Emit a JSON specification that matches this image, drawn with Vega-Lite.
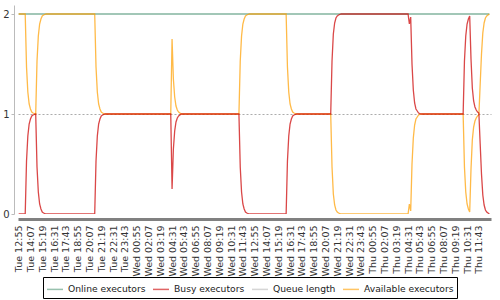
{
  "$schema": "https://vega.github.io/schema/vega-lite/v6.json",
  "width": 473,
  "height": 209,
  "autosize": "none",
  "padding": {"left": 18, "top": 5, "right": 9, "bottom": 86},
  "config": {"font": "DejaVu Sans", "view": {"stroke": null}},
  "data": {"values": [
    {"t": "2024-01-02T12:55", "s": "Online executors", "v": 2},
    {"t": "2024-01-04T12:47", "s": "Online executors", "v": 2},

    {"t": "2024-01-02T12:55", "s": "Available executors", "v": 2},
    {"t": "2024-01-02T13:35", "s": "Available executors", "v": 2},
    {"t": "2024-01-02T13:43", "s": "Available executors", "v": 1.47},
    {"t": "2024-01-02T13:51", "s": "Available executors", "v": 1.22},
    {"t": "2024-01-02T13:59", "s": "Available executors", "v": 1.1},
    {"t": "2024-01-02T14:07", "s": "Available executors", "v": 1.05},
    {"t": "2024-01-02T14:15", "s": "Available executors", "v": 1.02},
    {"t": "2024-01-02T14:23", "s": "Available executors", "v": 1.01},
    {"t": "2024-01-02T14:39", "s": "Available executors", "v": 1},
    {"t": "2024-01-02T14:47", "s": "Available executors", "v": 1.53},
    {"t": "2024-01-02T14:55", "s": "Available executors", "v": 1.78},
    {"t": "2024-01-02T15:03", "s": "Available executors", "v": 1.9},
    {"t": "2024-01-02T15:11", "s": "Available executors", "v": 1.95},
    {"t": "2024-01-02T15:19", "s": "Available executors", "v": 1.98},
    {"t": "2024-01-02T15:27", "s": "Available executors", "v": 1.99},
    {"t": "2024-01-02T15:43", "s": "Available executors", "v": 2},
    {"t": "2024-01-02T20:39", "s": "Available executors", "v": 2},
    {"t": "2024-01-02T20:47", "s": "Available executors", "v": 1.47},
    {"t": "2024-01-02T20:55", "s": "Available executors", "v": 1.22},
    {"t": "2024-01-02T21:03", "s": "Available executors", "v": 1.1},
    {"t": "2024-01-02T21:11", "s": "Available executors", "v": 1.05},
    {"t": "2024-01-02T21:19", "s": "Available executors", "v": 1.02},
    {"t": "2024-01-02T21:27", "s": "Available executors", "v": 1.01},
    {"t": "2024-01-02T21:43", "s": "Available executors", "v": 1},
    {"t": "2024-01-03T04:23", "s": "Available executors", "v": 1},
    {"t": "2024-01-03T04:31", "s": "Available executors", "v": 1.75},
    {"t": "2024-01-03T04:39", "s": "Available executors", "v": 1.35},
    {"t": "2024-01-03T04:47", "s": "Available executors", "v": 1.17},
    {"t": "2024-01-03T04:55", "s": "Available executors", "v": 1.08},
    {"t": "2024-01-03T05:03", "s": "Available executors", "v": 1.04},
    {"t": "2024-01-03T05:11", "s": "Available executors", "v": 1.02},
    {"t": "2024-01-03T05:27", "s": "Available executors", "v": 1},
    {"t": "2024-01-03T11:19", "s": "Available executors", "v": 1},
    {"t": "2024-01-03T11:27", "s": "Available executors", "v": 1.53},
    {"t": "2024-01-03T11:35", "s": "Available executors", "v": 1.78},
    {"t": "2024-01-03T11:43", "s": "Available executors", "v": 1.9},
    {"t": "2024-01-03T11:51", "s": "Available executors", "v": 1.95},
    {"t": "2024-01-03T11:59", "s": "Available executors", "v": 1.98},
    {"t": "2024-01-03T12:07", "s": "Available executors", "v": 1.99},
    {"t": "2024-01-03T12:23", "s": "Available executors", "v": 2},
    {"t": "2024-01-03T16:07", "s": "Available executors", "v": 2},
    {"t": "2024-01-03T16:15", "s": "Available executors", "v": 1.47},
    {"t": "2024-01-03T16:23", "s": "Available executors", "v": 1.22},
    {"t": "2024-01-03T16:31", "s": "Available executors", "v": 1.1},
    {"t": "2024-01-03T16:39", "s": "Available executors", "v": 1.05},
    {"t": "2024-01-03T16:47", "s": "Available executors", "v": 1.02},
    {"t": "2024-01-03T16:55", "s": "Available executors", "v": 1.01},
    {"t": "2024-01-03T17:11", "s": "Available executors", "v": 1},
    {"t": "2024-01-03T20:39", "s": "Available executors", "v": 1},
    {"t": "2024-01-03T20:47", "s": "Available executors", "v": 0.47},
    {"t": "2024-01-03T20:55", "s": "Available executors", "v": 0.2},
    {"t": "2024-01-03T21:03", "s": "Available executors", "v": 0.09},
    {"t": "2024-01-03T21:11", "s": "Available executors", "v": 0.04},
    {"t": "2024-01-03T21:19", "s": "Available executors", "v": 0.02},
    {"t": "2024-01-03T21:27", "s": "Available executors", "v": 0.01},
    {"t": "2024-01-03T21:43", "s": "Available executors", "v": 0},
    {"t": "2024-01-04T04:31", "s": "Available executors", "v": 0},
    {"t": "2024-01-04T04:39", "s": "Available executors", "v": 0.1},
    {"t": "2024-01-04T04:47", "s": "Available executors", "v": 0.03},
    {"t": "2024-01-04T04:55", "s": "Available executors", "v": 0.5},
    {"t": "2024-01-04T05:03", "s": "Available executors", "v": 0.76},
    {"t": "2024-01-04T05:11", "s": "Available executors", "v": 0.89},
    {"t": "2024-01-04T05:19", "s": "Available executors", "v": 0.95},
    {"t": "2024-01-04T05:27", "s": "Available executors", "v": 0.97},
    {"t": "2024-01-04T05:35", "s": "Available executors", "v": 0.99},
    {"t": "2024-01-04T05:51", "s": "Available executors", "v": 1},
    {"t": "2024-01-04T10:07", "s": "Available executors", "v": 1},
    {"t": "2024-01-04T10:15", "s": "Available executors", "v": 0.47},
    {"t": "2024-01-04T10:23", "s": "Available executors", "v": 0.22},
    {"t": "2024-01-04T10:31", "s": "Available executors", "v": 0.1},
    {"t": "2024-01-04T10:39", "s": "Available executors", "v": 0.05},
    {"t": "2024-01-04T10:47", "s": "Available executors", "v": 0.02},
    {"t": "2024-01-04T10:55", "s": "Available executors", "v": 0.45},
    {"t": "2024-01-04T11:03", "s": "Available executors", "v": 0.74},
    {"t": "2024-01-04T11:11", "s": "Available executors", "v": 0.87},
    {"t": "2024-01-04T11:19", "s": "Available executors", "v": 0.93},
    {"t": "2024-01-04T11:27", "s": "Available executors", "v": 0.96},
    {"t": "2024-01-04T11:35", "s": "Available executors", "v": 0.98},
    {"t": "2024-01-04T11:43", "s": "Available executors", "v": 0.99},
    {"t": "2024-01-04T11:51", "s": "Available executors", "v": 1.3},
    {"t": "2024-01-04T11:59", "s": "Available executors", "v": 1.6},
    {"t": "2024-01-04T12:07", "s": "Available executors", "v": 1.81},
    {"t": "2024-01-04T12:15", "s": "Available executors", "v": 1.91},
    {"t": "2024-01-04T12:23", "s": "Available executors", "v": 1.96},
    {"t": "2024-01-04T12:31", "s": "Available executors", "v": 1.98},
    {"t": "2024-01-04T12:39", "s": "Available executors", "v": 1.99},
    {"t": "2024-01-04T12:47", "s": "Available executors", "v": 2},

    {"t": "2024-01-02T12:55", "s": "Busy executors", "v": 0},
    {"t": "2024-01-02T13:35", "s": "Busy executors", "v": 0},
    {"t": "2024-01-02T13:43", "s": "Busy executors", "v": 0.53},
    {"t": "2024-01-02T13:51", "s": "Busy executors", "v": 0.78},
    {"t": "2024-01-02T13:59", "s": "Busy executors", "v": 0.9},
    {"t": "2024-01-02T14:07", "s": "Busy executors", "v": 0.95},
    {"t": "2024-01-02T14:15", "s": "Busy executors", "v": 0.98},
    {"t": "2024-01-02T14:23", "s": "Busy executors", "v": 0.99},
    {"t": "2024-01-02T14:39", "s": "Busy executors", "v": 1},
    {"t": "2024-01-02T14:47", "s": "Busy executors", "v": 0.47},
    {"t": "2024-01-02T14:55", "s": "Busy executors", "v": 0.22},
    {"t": "2024-01-02T15:03", "s": "Busy executors", "v": 0.1},
    {"t": "2024-01-02T15:11", "s": "Busy executors", "v": 0.05},
    {"t": "2024-01-02T15:19", "s": "Busy executors", "v": 0.02},
    {"t": "2024-01-02T15:27", "s": "Busy executors", "v": 0.01},
    {"t": "2024-01-02T15:43", "s": "Busy executors", "v": 0},
    {"t": "2024-01-02T20:39", "s": "Busy executors", "v": 0},
    {"t": "2024-01-02T20:47", "s": "Busy executors", "v": 0.53},
    {"t": "2024-01-02T20:55", "s": "Busy executors", "v": 0.78},
    {"t": "2024-01-02T21:03", "s": "Busy executors", "v": 0.9},
    {"t": "2024-01-02T21:11", "s": "Busy executors", "v": 0.95},
    {"t": "2024-01-02T21:19", "s": "Busy executors", "v": 0.98},
    {"t": "2024-01-02T21:27", "s": "Busy executors", "v": 0.99},
    {"t": "2024-01-02T21:43", "s": "Busy executors", "v": 1},
    {"t": "2024-01-03T04:23", "s": "Busy executors", "v": 1},
    {"t": "2024-01-03T04:31", "s": "Busy executors", "v": 0.25},
    {"t": "2024-01-03T04:39", "s": "Busy executors", "v": 0.65},
    {"t": "2024-01-03T04:47", "s": "Busy executors", "v": 0.83},
    {"t": "2024-01-03T04:55", "s": "Busy executors", "v": 0.92},
    {"t": "2024-01-03T05:03", "s": "Busy executors", "v": 0.96},
    {"t": "2024-01-03T05:11", "s": "Busy executors", "v": 0.98},
    {"t": "2024-01-03T05:27", "s": "Busy executors", "v": 1},
    {"t": "2024-01-03T11:19", "s": "Busy executors", "v": 1},
    {"t": "2024-01-03T11:27", "s": "Busy executors", "v": 0.47},
    {"t": "2024-01-03T11:35", "s": "Busy executors", "v": 0.22},
    {"t": "2024-01-03T11:43", "s": "Busy executors", "v": 0.1},
    {"t": "2024-01-03T11:51", "s": "Busy executors", "v": 0.05},
    {"t": "2024-01-03T11:59", "s": "Busy executors", "v": 0.02},
    {"t": "2024-01-03T12:07", "s": "Busy executors", "v": 0.01},
    {"t": "2024-01-03T12:23", "s": "Busy executors", "v": 0},
    {"t": "2024-01-03T16:07", "s": "Busy executors", "v": 0},
    {"t": "2024-01-03T16:15", "s": "Busy executors", "v": 0.53},
    {"t": "2024-01-03T16:23", "s": "Busy executors", "v": 0.78},
    {"t": "2024-01-03T16:31", "s": "Busy executors", "v": 0.9},
    {"t": "2024-01-03T16:39", "s": "Busy executors", "v": 0.95},
    {"t": "2024-01-03T16:47", "s": "Busy executors", "v": 0.98},
    {"t": "2024-01-03T16:55", "s": "Busy executors", "v": 0.99},
    {"t": "2024-01-03T17:11", "s": "Busy executors", "v": 1},
    {"t": "2024-01-03T20:39", "s": "Busy executors", "v": 1},
    {"t": "2024-01-03T20:47", "s": "Busy executors", "v": 1.53},
    {"t": "2024-01-03T20:55", "s": "Busy executors", "v": 1.8},
    {"t": "2024-01-03T21:03", "s": "Busy executors", "v": 1.91},
    {"t": "2024-01-03T21:11", "s": "Busy executors", "v": 1.96},
    {"t": "2024-01-03T21:19", "s": "Busy executors", "v": 1.98},
    {"t": "2024-01-03T21:27", "s": "Busy executors", "v": 1.99},
    {"t": "2024-01-03T21:43", "s": "Busy executors", "v": 2},
    {"t": "2024-01-04T04:31", "s": "Busy executors", "v": 2},
    {"t": "2024-01-04T04:39", "s": "Busy executors", "v": 1.9},
    {"t": "2024-01-04T04:47", "s": "Busy executors", "v": 1.97},
    {"t": "2024-01-04T04:55", "s": "Busy executors", "v": 1.5},
    {"t": "2024-01-04T05:03", "s": "Busy executors", "v": 1.24},
    {"t": "2024-01-04T05:11", "s": "Busy executors", "v": 1.11},
    {"t": "2024-01-04T05:19", "s": "Busy executors", "v": 1.05},
    {"t": "2024-01-04T05:27", "s": "Busy executors", "v": 1.03},
    {"t": "2024-01-04T05:35", "s": "Busy executors", "v": 1.01},
    {"t": "2024-01-04T05:51", "s": "Busy executors", "v": 1},
    {"t": "2024-01-04T10:07", "s": "Busy executors", "v": 1},
    {"t": "2024-01-04T10:15", "s": "Busy executors", "v": 1.53},
    {"t": "2024-01-04T10:23", "s": "Busy executors", "v": 1.78},
    {"t": "2024-01-04T10:31", "s": "Busy executors", "v": 1.9},
    {"t": "2024-01-04T10:39", "s": "Busy executors", "v": 1.95},
    {"t": "2024-01-04T10:47", "s": "Busy executors", "v": 1.98},
    {"t": "2024-01-04T10:55", "s": "Busy executors", "v": 1.55},
    {"t": "2024-01-04T11:03", "s": "Busy executors", "v": 1.26},
    {"t": "2024-01-04T11:11", "s": "Busy executors", "v": 1.13},
    {"t": "2024-01-04T11:19", "s": "Busy executors", "v": 1.07},
    {"t": "2024-01-04T11:27", "s": "Busy executors", "v": 1.04},
    {"t": "2024-01-04T11:35", "s": "Busy executors", "v": 1.02},
    {"t": "2024-01-04T11:43", "s": "Busy executors", "v": 1.01},
    {"t": "2024-01-04T11:51", "s": "Busy executors", "v": 0.7},
    {"t": "2024-01-04T11:59", "s": "Busy executors", "v": 0.4},
    {"t": "2024-01-04T12:07", "s": "Busy executors", "v": 0.19},
    {"t": "2024-01-04T12:15", "s": "Busy executors", "v": 0.09},
    {"t": "2024-01-04T12:23", "s": "Busy executors", "v": 0.04},
    {"t": "2024-01-04T12:31", "s": "Busy executors", "v": 0.02},
    {"t": "2024-01-04T12:39", "s": "Busy executors", "v": 0.01},
    {"t": "2024-01-04T12:47", "s": "Busy executors", "v": 0}
  ]},
  "mark": {"type": "line", "strokeWidth": 1.3, "strokeOpacity": 0.72, "clip": true},
  "encoding": {
    "x": {
      "field": "t", "type": "temporal",
      "scale": {"domain": [
        {"year": 2024, "month": 1, "date": 2, "hours": 12, "minutes": 51},
        {"year": 2024, "month": 1, "date": 4, "hours": 12, "minutes": 57}
      ]},
      "axis": {
        "title": null, "format": "%a %H:%M", "labelAngle": -90,
        "labelFontSize": 9.5, "labelColor": "#333333", "labelPadding": 6,
        "ticks": false, "grid": false, "offset": 5,
        "domainColor": "#808080", "domainWidth": 3,
        "labelOverlap": false, "labelFlush": false,
        "values": [
          {"year": 2024, "month": 1, "date": 2, "hours": 12, "minutes": 55},
          {"year": 2024, "month": 1, "date": 2, "hours": 14, "minutes": 7},
          {"year": 2024, "month": 1, "date": 2, "hours": 15, "minutes": 19},
          {"year": 2024, "month": 1, "date": 2, "hours": 16, "minutes": 31},
          {"year": 2024, "month": 1, "date": 2, "hours": 17, "minutes": 43},
          {"year": 2024, "month": 1, "date": 2, "hours": 18, "minutes": 55},
          {"year": 2024, "month": 1, "date": 2, "hours": 20, "minutes": 7},
          {"year": 2024, "month": 1, "date": 2, "hours": 21, "minutes": 19},
          {"year": 2024, "month": 1, "date": 2, "hours": 22, "minutes": 31},
          {"year": 2024, "month": 1, "date": 2, "hours": 23, "minutes": 43},
          {"year": 2024, "month": 1, "date": 3, "hours": 0, "minutes": 55},
          {"year": 2024, "month": 1, "date": 3, "hours": 2, "minutes": 7},
          {"year": 2024, "month": 1, "date": 3, "hours": 3, "minutes": 19},
          {"year": 2024, "month": 1, "date": 3, "hours": 4, "minutes": 31},
          {"year": 2024, "month": 1, "date": 3, "hours": 5, "minutes": 43},
          {"year": 2024, "month": 1, "date": 3, "hours": 6, "minutes": 55},
          {"year": 2024, "month": 1, "date": 3, "hours": 8, "minutes": 7},
          {"year": 2024, "month": 1, "date": 3, "hours": 9, "minutes": 19},
          {"year": 2024, "month": 1, "date": 3, "hours": 10, "minutes": 31},
          {"year": 2024, "month": 1, "date": 3, "hours": 11, "minutes": 43},
          {"year": 2024, "month": 1, "date": 3, "hours": 12, "minutes": 55},
          {"year": 2024, "month": 1, "date": 3, "hours": 14, "minutes": 7},
          {"year": 2024, "month": 1, "date": 3, "hours": 15, "minutes": 19},
          {"year": 2024, "month": 1, "date": 3, "hours": 16, "minutes": 31},
          {"year": 2024, "month": 1, "date": 3, "hours": 17, "minutes": 43},
          {"year": 2024, "month": 1, "date": 3, "hours": 18, "minutes": 55},
          {"year": 2024, "month": 1, "date": 3, "hours": 20, "minutes": 7},
          {"year": 2024, "month": 1, "date": 3, "hours": 21, "minutes": 19},
          {"year": 2024, "month": 1, "date": 3, "hours": 22, "minutes": 31},
          {"year": 2024, "month": 1, "date": 3, "hours": 23, "minutes": 43},
          {"year": 2024, "month": 1, "date": 4, "hours": 0, "minutes": 55},
          {"year": 2024, "month": 1, "date": 4, "hours": 2, "minutes": 7},
          {"year": 2024, "month": 1, "date": 4, "hours": 3, "minutes": 19},
          {"year": 2024, "month": 1, "date": 4, "hours": 4, "minutes": 31},
          {"year": 2024, "month": 1, "date": 4, "hours": 5, "minutes": 43},
          {"year": 2024, "month": 1, "date": 4, "hours": 6, "minutes": 55},
          {"year": 2024, "month": 1, "date": 4, "hours": 8, "minutes": 7},
          {"year": 2024, "month": 1, "date": 4, "hours": 9, "minutes": 19},
          {"year": 2024, "month": 1, "date": 4, "hours": 10, "minutes": 31},
          {"year": 2024, "month": 1, "date": 4, "hours": 11, "minutes": 43}
        ]
      }
    },
    "y": {
      "field": "v", "type": "quantitative",
      "scale": {"domain": [0, 2.09], "nice": false, "zero": false},
      "axis": {
        "title": null, "values": [0, 1, 2], "format": ".0f", "offset": 4,
        "labelOverlap": false, "labelFlush": false,
        "domainColor": "#bbbbbb", "tickColor": "#bbbbbb", "tickSize": 3,
        "labelFontSize": 10, "labelColor": "#333333", "labelPadding": 2,
        "grid": true, "gridDash": [2, 2], "gridColor": "#888888", "gridWidth": 0.7,
        "gridOpacity": {"condition": {"test": "datum.value === 1", "value": 1}, "value": 0}
      }
    },
    "color": {
      "field": "s", "type": "nominal",
      "scale": {
        "domain": ["Online executors", "Busy executors", "Queue length", "Available executors"],
        "range": ["#55987a", "#cc0000", "#bbbbbb", "#ffa000"]
      },
      "legend": {
        "title": null, "orient": "none", "legendX": 25, "legendY": 272,
        "direction": "horizontal", "columns": 4,
        "symbolType": "stroke", "symbolSize": 256, "symbolStrokeWidth": 1.5, "symbolOpacity": 0.6,
        "labelFontSize": 9.2, "labelColor": "#222222", "labelOffset": 4,
        "columnPadding": 4, "padding": 3, "strokeColor": "#000000"
      }
    }
  }
}
